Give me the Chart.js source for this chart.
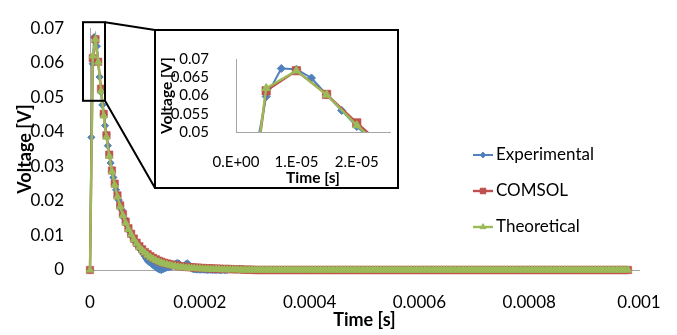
<!DOCTYPE html>
<html>
<head>
<meta charset="utf-8">
<script src="https://cdn.jsdelivr.net/npm/chart.js@4.4.0/dist/chart.umd.min.js"></script>
<style>
  body { margin: 0; background: #fff; }
  #wrap { position: relative; width: 677px; height: 335px; }
  #chartMain { display: block; }
  #inset {
    position: absolute; left: 154px; top: 29px; width: 245px; height: 160px;
    box-sizing: border-box; border: 2px solid #000; background: #fff;
  }
  #chartInset { display: block; }
</style>
</head>
<body>
<div id="wrap">
  <canvas id="chartMain" width="677" height="335"></canvas>
  <div id="inset"><canvas id="chartInset" width="241" height="156"></canvas></div>
</div>
<script>
// sampling interval of each series (s)
const expStep = 2.5e-6;
const modelStep = 5e-6;

const seriesNames = ["Experimental", "COMSOL", "Theoretical"];

// measured voltage, one value every 2.5 us
const experimentalVoltage = [
  0, 0.0384, 0.0597, 0.0674, 0.0672, 0.0648, 0.0602, 0.0559, 0.0515, 0.0478,
  0.0450, 0.0418, 0.0392, 0.0360, 0.0336, 0.0310, 0.0285, 0.0268, 0.0248, 0.0232,
  0.0213, 0.0202, 0.0186, 0.0175, 0.0160, 0.0150, 0.0138, 0.0129, 0.0119, 0.0111,
  0.0101, 0.0095, 0.0087, 0.0081, 0.0074, 0.0068, 0.0062, 0.0058, 0.0052, 0.0046,
  0.0040, 0.0033, 0.0027, 0.0024, 0.0022, 0.0018, 0.0014, 0.0011, 0.0008, 0.0005,
  0.0003, 0.0001, 0.0000, 0.0002, 0.0004, 0.0006, 0.0007, 0.0008, 0.0009, 0.0010,
  0.0012, 0.0014, 0.0017, 0.0019, 0.0020, 0.0018, 0.0014, 0.0010, 0.0009, 0.0013,
  0.0017, 0.0019, 0.0015, 0.0009, 0.0005, 0.0003, 0.0002, 0.0002, 0.0001, 0.0002,
  0.0001, 0.0001, 0.0002, 0.0001, 0.0001, 0.0001, 0.0000, 0.0001, 0.0001, 0.0000,
  0.0001, 0.0000, 0.0000, 0.0001, 0.0000, 0.0000, 0.0000, 0.0001, 0.0000, 0.0000,
  0.0000,
];

// simulated voltage, one value every 5 us
const comsolVoltage = [
  0, 0.0613, 0.0668, 0.0603, 0.0525, 0.0452, 0.0390, 0.0334, 0.0288, 0.0250,
  0.0216, 0.0187, 0.0162, 0.0140, 0.0121, 0.0105, 0.0091, 0.0079, 0.0069, 0.0060,
  0.0052, 0.0046, 0.0040, 0.0035, 0.0031, 0.0027, 0.0024, 0.0021, 0.0019, 0.0017,
  0.0015, 0.0014, 0.0012, 0.0011, 0.0010, 0.0009, 0.0008, 0.0008, 0.0007, 0.0007,
  0.0006, 0.0006, 0.0005, 0.0005, 0.0005, 0.0004, 0.0004, 0.0004, 0.0003, 0.0003,
  0.0003, 0.0003, 0.0002, 0.0002, 0.0002, 0.0002, 0.0001, 0.0001, 0.0001, 0.0001,
  0, 0, 0, 0, 0, 0, 0, 0, 0, 0, 0, 0, 0, 0, 0, 0, 0, 0, 0, 0,
  0, 0, 0, 0, 0, 0, 0, 0, 0, 0, 0, 0, 0, 0, 0, 0, 0, 0, 0, 0,
  0, 0, 0, 0, 0, 0, 0, 0, 0, 0, 0, 0, 0, 0, 0, 0, 0, 0, 0, 0,
  0, 0, 0, 0, 0, 0, 0, 0, 0, 0, 0, 0, 0, 0, 0, 0, 0, 0, 0, 0,
  0, 0, 0, 0, 0, 0, 0, 0, 0, 0, 0, 0, 0, 0, 0, 0, 0, 0, 0, 0,
  0, 0, 0, 0, 0, 0, 0, 0, 0, 0, 0, 0, 0, 0, 0, 0, 0, 0, 0, 0,
  0, 0, 0, 0, 0, 0, 0, 0, 0, 0, 0, 0, 0, 0, 0, 0, 0,
];

// analytical voltage, one value every 5 us
const theoreticalVoltage = [
  0, 0.0620, 0.0668, 0.0602, 0.0518, 0.0446, 0.0385, 0.0330, 0.0285, 0.0246,
  0.0212, 0.0183, 0.0158, 0.0136, 0.0118, 0.0102, 0.0088, 0.0076, 0.0066, 0.0057,
  0.0050, 0.0043, 0.0037, 0.0032, 0.0028, 0.0024, 0.0021, 0.0018, 0.0016, 0.0014,
  0.0012, 0.0011, 0.0009, 0.0008, 0.0007, 0.0006, 0.0006, 0.0005, 0.0005, 0.0004,
  0.0004, 0.0003, 0.0003, 0.0003, 0.0002, 0.0002, 0.0002, 0.0002, 0.0001, 0.0001,
  0.0001, 0.0001, 0.0001, 0.0001, 0.0001, 0, 0, 0, 0, 0,
  0, 0, 0, 0, 0, 0, 0, 0, 0, 0, 0, 0, 0, 0, 0, 0, 0, 0, 0, 0,
  0, 0, 0, 0, 0, 0, 0, 0, 0, 0, 0, 0, 0, 0, 0, 0, 0, 0, 0, 0,
  0, 0, 0, 0, 0, 0, 0, 0, 0, 0, 0, 0, 0, 0, 0, 0, 0, 0, 0, 0,
  0, 0, 0, 0, 0, 0, 0, 0, 0, 0, 0, 0, 0, 0, 0, 0, 0, 0, 0, 0,
  0, 0, 0, 0, 0, 0, 0, 0, 0, 0, 0, 0, 0, 0, 0, 0, 0, 0, 0, 0,
  0, 0, 0, 0, 0, 0, 0, 0, 0, 0, 0, 0, 0, 0, 0, 0, 0, 0, 0, 0,
  0, 0, 0, 0, 0, 0, 0, 0, 0, 0, 0, 0, 0, 0, 0, 0, 0,
];

// axis ticks
const mainTimeTicks = [0, 0.0002, 0.0004, 0.0006, 0.0008, 0.001];
const mainTimeLabels = ["0", "0.0002", "0.0004", "0.0006", "0.0008", "0.001"];
const mainVoltTicks = [0, 0.01, 0.02, 0.03, 0.04, 0.05, 0.06, 0.07];
const mainVoltLabels = ["0", "0.01", "0.02", "0.03", "0.04", "0.05", "0.06", "0.07"];
const insetTimeTicks = [0, 1e-5, 2e-5];
const insetTimeLabels = ["0.E+00", "1.E-05", "2.E-05"];
const insetVoltTicks = [0.05, 0.055, 0.06, 0.065, 0.07];
const insetVoltLabels = ["0.05", "0.055", "0.06", "0.065", "0.07"];

// zoomed window shown in the inset
const insetTimeMin = 0;
const insetTimeMax = 2.55e-5;
const insetVoltMin = 0.05;
const insetVoltMax = 0.07;

const insetBox = { left: 154, top: 29, width: 245, height: 160 };

const FONT = "Lato, 'Noto Sans', sans-serif";
const colors = ["#4F81BD", "#C0504D", "#9BBB59"];
const styles = ["rectRot", "rect", "triangle"];

function toPoints(values, step) {
  return values.map((v, i) => ({ x: i * step, y: v }));
}

function makeDatasets(big) {
  const all = [
    toPoints(experimentalVoltage, expStep),
    toPoints(comsolVoltage, modelStep),
    toPoints(theoreticalVoltage, modelStep),
  ];
  const radius = big ? [4, 6, 4.8] : [3.6, 5.2, 4.2];
  return all.map((data, i) => ({
    label: seriesNames[i],
    data: data,
    borderColor: colors[i],
    backgroundColor: colors[i],
    pointBackgroundColor: colors[i],
    pointBorderColor: i == 1 ? "rgba(192,80,77,0.55)" : colors[i],
    pointBorderWidth: 1,
    pointStyle: styles[i],
    pointRadius: radius[i],
    borderWidth: i == 0 ? 2 : 2.4,
    order: 2 - i,
    clip: big ? undefined : false,
  }));
}

function axisTicks(values) {
  return (scale) => {
    scale.ticks = values.map((v) => ({ value: v }));
  };
}

// rectangle on the peak and the two lines running to the inset
const zoomMarker = {
  id: "zoomMarker",
  afterDatasetsDraw(chart) {
    const { ctx } = chart;
    const xs = chart.scales.x;
    const ys = chart.scales.y;
    const left = xs.getPixelForValue(insetTimeMin) - 7;
    const right = xs.getPixelForValue(insetTimeMax) + 1;
    const top = ys.getPixelForValue(insetVoltMax) - 6;
    const bottom = ys.getPixelForValue(insetVoltMin) + 3.5;
    ctx.save();
    ctx.strokeStyle = "#000";
    ctx.lineWidth = 2;
    ctx.strokeRect(left, top, right - left, bottom - top);
    ctx.beginPath();
    ctx.moveTo(right, top);
    ctx.lineTo(insetBox.left + 1, insetBox.top + 1);
    ctx.moveTo(right, bottom);
    ctx.lineTo(insetBox.left + 1, insetBox.top + insetBox.height - 1);
    ctx.stroke();
    ctx.restore();
  },
};

const sideLegend = {
  id: "sideLegend",
  afterDraw(chart) {
    const { ctx } = chart;
    chart.data.datasets.forEach((ds, i) => {
      const y = 155 + i * 36;
      ctx.save();
      ctx.strokeStyle = ds.borderColor;
      ctx.lineWidth = ds.borderWidth;
      ctx.beginPath();
      ctx.moveTo(473, y);
      ctx.lineTo(493, y);
      ctx.stroke();
      ctx.fillStyle = ds.pointBackgroundColor;
      ctx.strokeStyle = ds.pointBorderColor;
      ctx.lineWidth = 1;
      Chart.helpers.drawPoint(ctx, { pointStyle: ds.pointStyle, radius: ds.pointRadius * 0.8, borderWidth: 1 }, 483, y);
      ctx.fillStyle = "#000";
      ctx.font = "17px " + FONT;
      ctx.textBaseline = "middle";
      ctx.fillText(ds.label, 496, y);
      ctx.restore();
    });
  },
};

const mainFont = { family: FONT, size: 17 };
const mainTitleFont = { family: FONT, size: 18, weight: "bold" };

const ctxMain = document.getElementById("chartMain").getContext("2d");
const chartMain = new Chart(ctxMain, {
  type: "line",
  data: { datasets: makeDatasets(false) },
  options: {
    responsive: false,
    animation: false,
    devicePixelRatio: 1,
    events: [],
    layout: { padding: { left: 0, right: 38, top: 13, bottom: 0 } },
    plugins: { legend: { display: false }, tooltip: { enabled: false } },
    scales: {
      x: {
        type: "linear",
        min: 0,
        max: 0.001,
        afterBuildTicks: axisTicks(mainTimeTicks),
        afterFit: (s) => { s.height = 65; },
        grid: { display: false },
        border: { color: "#A6A6A6", width: 1 },
        ticks: {
          padding: 14,
          color: "#000",
          font: mainFont,
          maxRotation: 0,
          autoSkip: false,
          callback: (v) => mainTimeLabels[mainTimeTicks.indexOf(v)],
        },
        title: { display: true, text: "Time [s]", color: "#000", font: mainTitleFont, padding: { top: 0, bottom: 4 } },
      },
      y: {
        type: "linear",
        min: 0,
        max: 0.07,
        afterBuildTicks: axisTicks(mainVoltTicks),
        afterFit: (s) => { s.width = 90; },
        grid: { display: false },
        border: { color: "#A6A6A6", width: 1 },
        ticks: {
          padding: 18,
          color: "#000",
          font: mainFont,
          autoSkip: false,
          callback: (v) => mainVoltLabels[mainVoltTicks.indexOf(v)],
        },
        title: { display: true, text: "Voltage [V]", color: "#000", font: mainTitleFont, padding: { top: 14, bottom: 0 } },
      },
    },
  },
  plugins: [zoomMarker, sideLegend],
});

const insetFont = { family: FONT, size: 15 };
const insetTitleFont = { family: FONT, size: 15.5, weight: "bold" };

const ctxInset = document.getElementById("chartInset").getContext("2d");
const chartInset = new Chart(ctxInset, {
  type: "line",
  data: { datasets: makeDatasets(true) },
  options: {
    responsive: false,
    animation: false,
    devicePixelRatio: 1,
    events: [],
    layout: { padding: { left: 0, right: 5, top: 10, bottom: 0 } },
    plugins: { legend: { display: false }, tooltip: { enabled: false } },
    scales: {
      x: {
        type: "linear",
        min: insetTimeMin,
        max: insetTimeMax,
        afterBuildTicks: axisTicks(insetTimeTicks),
        afterFit: (s) => { s.height = 55; },
        grid: { display: false },
        border: { color: "#A6A6A6", width: 1 },
        ticks: {
          padding: 13,
          color: "#000",
          font: insetFont,
          maxRotation: 0,
          autoSkip: false,
          callback: (v) => insetTimeLabels[insetTimeTicks.indexOf(v)],
        },
        title: { display: true, text: "Time [s]", color: "#000", font: insetTitleFont, padding: { top: 0, bottom: 0 } },
      },
      y: {
        type: "linear",
        min: insetVoltMin,
        max: insetVoltMax,
        afterBuildTicks: axisTicks(insetVoltTicks),
        afterFit: (s) => { s.width = 80; },
        grid: { display: false },
        border: { color: "#A6A6A6", width: 1 },
        ticks: {
          padding: 19,
          color: "#000",
          font: insetFont,
          autoSkip: false,
          callback: (v) => insetVoltLabels[insetVoltTicks.indexOf(v)],
        },
        title: { display: true, text: "Voltage [V]", color: "#000", font: insetTitleFont, padding: { top: 2, bottom: 0 } },
      },
    },
  },
});
</script>
</body>
</html>
